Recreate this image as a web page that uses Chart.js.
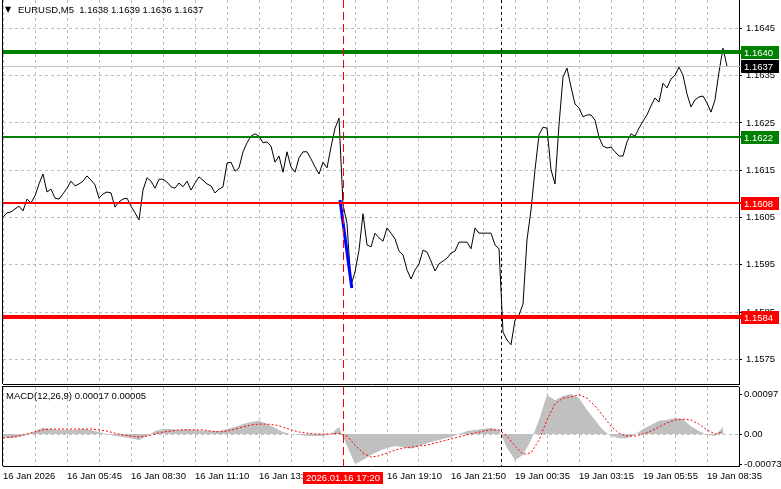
<!DOCTYPE html>
<html>
<head>
<meta charset="utf-8">
<script src="https://cdn.jsdelivr.net/npm/chart.js@4"></script>
<style>
  html, body { margin: 0; padding: 0; background: #fff; }
  #wrap { position: relative; width: 781px; height: 489px; overflow: hidden; }
  canvas { position: absolute; left: 0; }
</style>
</head>
<body>
<div id="wrap">
  <canvas id="main" width="781" height="385" style="top:0"></canvas>
  <canvas id="macd" width="781" height="104" style="top:385px"></canvas>
</div>
<script>
const closes = [
  1.16051, 1.16060, 1.16062, 1.16068, 1.16074, 1.16064, 1.16089, 1.16081, 1.16096, 1.16121,
  1.16142, 1.16104, 1.16110, 1.16091, 1.16089, 1.16100, 1.16112, 1.16127, 1.16117, 1.16121,
  1.16127, 1.16138, 1.16129, 1.16119, 1.16091, 1.16100, 1.16104, 1.16102, 1.16072, 1.16083,
  1.16089, 1.16091, 1.16074, 1.16060, 1.16045, 1.16108, 1.16134, 1.16127, 1.16112, 1.16131,
  1.16131, 1.16125, 1.16115, 1.16112, 1.16123, 1.16115, 1.16127, 1.16108, 1.16123, 1.16136,
  1.16129, 1.16121, 1.16117, 1.16102, 1.16110, 1.16115, 1.16165, 1.16167, 1.16148, 1.16155,
  1.16189, 1.16208, 1.16222, 1.16227, 1.16222, 1.16208, 1.16210, 1.16201, 1.16167, 1.16180,
  1.16146, 1.16189, 1.16157, 1.16146, 1.16176, 1.16189, 1.16189, 1.16174, 1.16157, 1.16142,
  1.16167, 1.16155, 1.16199, 1.16239, 1.16260, 1.16077, 1.16038, 1.15907, 1.15935, 1.15981,
  1.16058, 1.15992, 1.15988, 1.16017, 1.16007, 1.16000, 1.16028, 1.16017, 1.16005, 1.15979,
  1.15971, 1.15939, 1.15920, 1.15939, 1.15952, 1.15981, 1.15977, 1.15958, 1.15937, 1.15952,
  1.15958, 1.15964, 1.15975, 1.15979, 1.15998, 1.15998, 1.15998, 1.15984, 1.16028, 1.16017,
  1.16017, 1.16017, 1.16017, 1.15992, 1.15984, 1.15808, 1.15791, 1.15781, 1.15833, 1.15844,
  1.15867, 1.16003, 1.16066, 1.16151, 1.16225, 1.16241, 1.16239, 1.16151, 1.16121, 1.16246,
  1.16347, 1.16366, 1.16326, 1.16290, 1.16282, 1.16263, 1.16267, 1.16267, 1.16256, 1.16220,
  1.16201, 1.16197, 1.16199, 1.16189, 1.16180, 1.16180, 1.16210, 1.16227, 1.16222, 1.16239,
  1.16254, 1.16267, 1.16286, 1.16303, 1.16294, 1.16334, 1.16324, 1.16343, 1.16351, 1.16368,
  1.16351, 1.16311, 1.16284, 1.16299, 1.16305, 1.16307, 1.16292, 1.16273, 1.16299, 1.16358,
  1.16408, 1.16370
];

// MACD(12,26,9): histograma e sinal (1 ponto a cada 4 barras)
const macdHist = [
  -0.00007, -0.00010, -0.00007, -0.00002, 0.00007, 0.00015, 0.00012, 0.00010, 0.00010, 0.00010,
  0.00012, 0.00010, 0.00005, 0.00000, -0.00005, -0.00007, -0.00010, -0.00015, -0.00005, 0.00007,
  0.00012, 0.00012, 0.00010, 0.00012, 0.00010, 0.00007, 0.00007, 0.00007, 0.00012, 0.00017,
  0.00024, 0.00029, 0.00032, 0.00024, 0.00015, 0.00005, 0.00000, -0.00002, -0.00005, -0.00005,
  -0.00005, 0.00000, 0.00017, -0.00029, -0.00073, -0.00063, -0.00051, -0.00041, -0.00034, -0.00029,
  -0.00032, -0.00036, -0.00029, -0.00022, -0.00017, -0.00012, -0.00007, 0.00000, 0.00007, 0.00010,
  0.00012, 0.00015, 0.00010, -0.00034, -0.00063, -0.00051, -0.00015, 0.00034, 0.00095, 0.00082,
  0.00092, 0.00097, 0.00087, 0.00058, 0.00034, 0.00010, -0.00005, -0.00010, -0.00010, -0.00002,
  0.00012, 0.00022, 0.00032, 0.00034, 0.00039, 0.00036, 0.00019, 0.00007, -0.00002, -0.00005,
  0.00017
];
const macdSignal = [
  -0.00010, -0.00007, -0.00005, 0.00000, 0.00005, 0.00010, 0.00012, 0.00012, 0.00012, 0.00012,
  0.00012, 0.00012, 0.00010, 0.00007, 0.00002, -0.00002, -0.00005, -0.00007, -0.00005, 0.00000,
  0.00005, 0.00007, 0.00010, 0.00010, 0.00010, 0.00010, 0.00007, 0.00005, 0.00007, 0.00012,
  0.00017, 0.00022, 0.00024, 0.00024, 0.00022, 0.00017, 0.00010, 0.00005, 0.00002, 0.00000,
  0.00000, 0.00000, 0.00002, -0.00005, -0.00027, -0.00046, -0.00056, -0.00053, -0.00046, -0.00039,
  -0.00034, -0.00032, -0.00029, -0.00027, -0.00022, -0.00017, -0.00012, -0.00007, -0.00002, 0.00002,
  0.00007, 0.00010, 0.00010, -0.00005, -0.00029, -0.00049, -0.00046, -0.00015, 0.00034, 0.00073,
  0.00087, 0.00090, 0.00095, 0.00087, 0.00068, 0.00044, 0.00019, 0.00002, -0.00005, -0.00005,
  0.00000, 0.00007, 0.00017, 0.00027, 0.00034, 0.00036, 0.00034, 0.00024, 0.00010, 0.00000,
  0.00005
];

const timeLabels = ['16 Jan 2026', '16 Jan 05:45', '16 Jan 08:30', '16 Jan 11:10', '16 Jan 13:50', '16 Jan 16:30',
  '16 Jan 19:10', '16 Jan 21:50', '19 Jan 00:35', '19 Jan 03:15', '19 Jan 05:55', '19 Jan 08:35'];
const priceTicks = [1.1575, 1.1585, 1.1595, 1.1605, 1.1615, 1.1625, 1.1635, 1.1645];
const macdTicks = [-0.00073, 0, 0.00097];
const macdTickLabels = ['-0.00073', '0.00', '0.00097'];

// niveis horizontais, bid e objetos desenhados
const levels = [1.1640, 1.1622, 1.1608, 1.1584];
const levelLabels = ['1.1640', '1.1622', '1.1608', '1.1584'];
const bid = 1.1637;
const bidLabel = '1.1637';
const trendIdx = [84.25, 87.2];
const trendPrices = [1.16087, 1.15901];
const eventIdx = 85;
const eventLabel = '2026.01.16 17:20';
const dayBreakIdx = 124.5;
const titleText = 'EURUSD,M5  1.1638 1.1639 1.1636 1.1637';
const macdText = 'MACD(12,26,9) 0.00017 0.00005';

// estilos
const FONT = '"Liberation Sans", Arial, sans-serif';
const FS = 9.5;
const GRID = '#bdbdbd';
const levelStyle = [
  { color: '#008000', width: 4 },
  { color: '#008000', width: 2 },
  { color: '#ff0000', width: 2 },
  { color: '#ff0000', width: 4 }
];

Chart.defaults.font.family = FONT;
Chart.defaults.font.size = FS;
Chart.defaults.color = '#000';

const gridIdx = [];
for (let k = 0; k <= 23; k++) gridIdx.push(k * 8);

function hLine(ctx, x1, x2, y, color, w) {
  const yy = w % 2 ? Math.round(y) + 0.5 : Math.round(y);
  ctx.strokeStyle = color; ctx.lineWidth = w; ctx.setLineDash([]);
  ctx.beginPath(); ctx.moveTo(x1, yy); ctx.lineTo(x2, yy); ctx.stroke();
}
function vLine(ctx, x, y1, y2, color, dash) {
  const xx = Math.round(x) + 0.5;
  ctx.strokeStyle = color; ctx.lineWidth = 1; ctx.setLineDash(dash);
  ctx.beginPath(); ctx.moveTo(xx, y1); ctx.lineTo(xx, y2); ctx.stroke();
  ctx.setLineDash([]);
}
function tag(ctx, y, text, bg) {
  const top = Math.round(y) - 6;
  ctx.fillStyle = bg; ctx.fillRect(741, top, 38, 13);
  ctx.fillStyle = '#fff'; ctx.textAlign = 'left'; ctx.textBaseline = 'middle';
  ctx.fillText(text, 744, top + 7);
}

function xScale(showLabels, h) {
  return {
    type: 'linear', min: 0, max: 184,
    afterBuildTicks: s => { s.ticks = gridIdx.map(v => ({ value: v })); },
    afterFit: s => { s.height = h; s.paddingLeft = 0; s.paddingRight = 0; },
    grid: { color: GRID, drawTicks: false },
    border: { display: true, color: '#000', dash: [3, 3] },
    ticks: {
      display: showLabels, autoSkip: false, maxRotation: 0, align: 'start', padding: 5,
      callback: v => (v % 16 === 0 ? timeLabels[v / 16] : '')
    }
  };
}

const mainOverlay = {
  id: 'mainOverlay',
  afterDatasetsDraw(chart) {
    const { ctx, chartArea: a, scales: { x, y } } = chart;
    ctx.save();
    hLine(ctx, a.left, 741, y.getPixelForValue(bid), '#c0c0c0', 1);
    levels.forEach((lv, k) => hLine(ctx, a.left, 741, y.getPixelForValue(lv), levelStyle[k].color, levelStyle[k].width));
    vLine(ctx, x.getPixelForValue(eventIdx), a.top, a.bottom, '#ff0000', [8, 4]);
    vLine(ctx, x.getPixelForValue(dayBreakIdx), a.top, a.bottom, '#000', [3, 3]);
    ctx.fillStyle = '#000';
    ctx.fillRect(a.left - 1, a.top, 1, a.bottom - a.top);
    ctx.restore();
  },
  afterDraw(chart) {
    const { ctx, scales: { y } } = chart;
    ctx.save();
    ctx.font = FS + 'px ' + FONT;
    levels.forEach((lv, k) => tag(ctx, y.getPixelForValue(lv), levelLabels[k], levelStyle[k].color));
    tag(ctx, y.getPixelForValue(bid), bidLabel, '#000');
    // titulo
    ctx.fillStyle = '#000'; ctx.textBaseline = 'middle'; ctx.textAlign = 'left';
    ctx.font = '8px "DejaVu Sans"';
    ctx.fillText('\u25BC', 5, 10);
    ctx.font = FS + 'px ' + FONT;
    ctx.fillText(titleText, 18, 10);
    ctx.restore();
  }
};

const macdOverlay = {
  id: 'macdOverlay',
  afterDatasetsDraw(chart) {
    const { ctx, chartArea: a, scales: { x } } = chart;
    ctx.save();
    vLine(ctx, x.getPixelForValue(eventIdx), a.top, a.bottom, '#ff0000', [8, 4]);
    vLine(ctx, x.getPixelForValue(dayBreakIdx), a.top, a.bottom, '#000', [3, 3]);
    ctx.fillStyle = '#000';
    ctx.fillRect(a.left - 1, a.top, 1, a.bottom - a.top);
    ctx.fillRect(a.left - 1, a.top - 1, a.right - a.left + 1, 1);
    ctx.restore();
  },
  afterDraw(chart) {
    const { ctx, chartArea: a, scales: { x } } = chart;
    ctx.save();
    ctx.font = FS + 'px ' + FONT;
    ctx.fillStyle = '#000'; ctx.textAlign = 'left'; ctx.textBaseline = 'middle';
    ctx.fillText(macdText, 6, a.top + 9);
    // etiqueta da linha vertical no eixo de tempo
    const cx = Math.round(x.getPixelForValue(eventIdx));
    ctx.fillStyle = '#ff0000';
    ctx.fillRect(cx - 40, a.bottom + 6, 80, 12);
    ctx.fillStyle = '#fff'; ctx.textAlign = 'center';
    ctx.fillText(eventLabel, cx, a.bottom + 12);
    ctx.restore();
  }
};

new Chart(document.getElementById('main'), {
  type: 'line',
  data: {
    datasets: [
      {
        data: trendIdx.map((v, i) => ({ x: v, y: trendPrices[i] })),
        borderColor: '#0000ff', borderWidth: 3, pointRadius: 0
      },
      {
        data: closes.map((v, i) => ({ x: i, y: v })),
        borderColor: '#000', borderWidth: 1, pointRadius: 0, tension: 0
      }
    ]
  },
  options: {
    responsive: false, animation: false, devicePixelRatio: 1,
    layout: { autoPadding: false, padding: { left: 3, top: 0, right: 0, bottom: 0 } },
    plugins: { legend: { display: false }, tooltip: { enabled: false } },
    scales: {
      x: xScale(false, 1),
      y: {
        position: 'right', min: 1.15698, max: 1.16510,
        afterBuildTicks: s => { s.ticks = priceTicks.map(v => ({ value: v })); },
        afterFit: s => { s.width = 42; s.paddingTop = 0; s.paddingBottom = 0; },
        grid: { color: GRID, tickLength: 3, tickColor: '#000' },
        border: { display: true, color: '#000', dash: [3, 3] },
        ticks: { padding: 4, callback: v => v.toFixed(4) }
      }
    }
  },
  plugins: [mainOverlay]
});

new Chart(document.getElementById('macd'), {
  type: 'line',
  data: {
    datasets: [
      {
        data: macdSignal.map((v, j) => ({ x: j * 2, y: v })),
        borderColor: '#ff0000', borderWidth: 1, borderDash: [2, 2], pointRadius: 0
      },
      {
        data: macdHist.map((v, j) => ({ x: j * 2, y: v })),
        borderWidth: 0, pointRadius: 0, fill: 'origin', backgroundColor: '#c0c0c0'
      }
    ]
  },
  options: {
    responsive: false, animation: false, devicePixelRatio: 1,
    layout: { autoPadding: false, padding: { left: 3, top: 2, right: 0, bottom: 0 } },
    plugins: { legend: { display: false }, tooltip: { enabled: false } },
    scales: {
      x: xScale(true, 23),
      y: {
        position: 'right', min: -0.000776, max: 0.00114,
        afterBuildTicks: s => { s.ticks = macdTicks.map(v => ({ value: v })); },
        afterFit: s => { s.width = 42; s.paddingTop = 0; s.paddingBottom = 0; },
        grid: { color: c => (c.tick && c.tick.value === 0 ? GRID : 'rgba(0,0,0,0)'), tickLength: 3, tickColor: '#000' },
        border: { display: true, color: '#000', dash: [3, 3] },
        ticks: { padding: 2, callback: (v, i) => macdTickLabels[i] }
      }
    }
  },
  plugins: [macdOverlay]
});
</script>
</body>
</html>
